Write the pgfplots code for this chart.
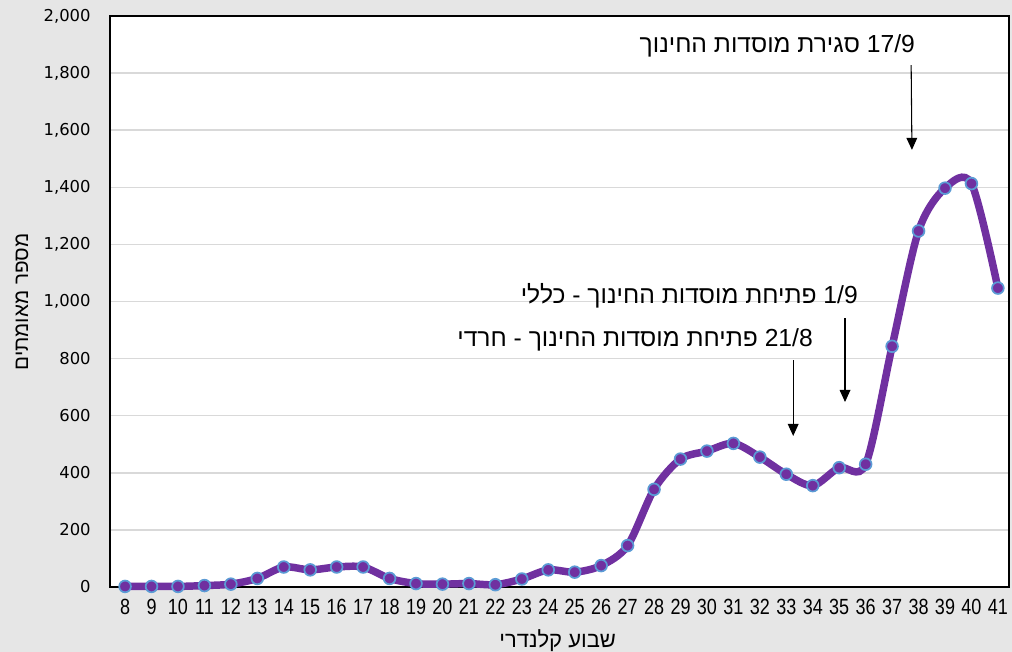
\documentclass[border=0pt]{standalone}
\usepackage{pgfplots}
\pgfplotsset{compat=1.18}
\usepackage{fontspec}
\setmainfont{Liberation Sans}
\newfontfamily\hebfont[Script=Hebrew]{Liberation Sans}
\newfontfamily\tickfont{DejaVu Sans}
\TeXXeTstate=1
\usetikzlibrary{arrows.meta}
\definecolor{cBg}{HTML}{E6E6E6}
\definecolor{cLine}{HTML}{7030A0}
\definecolor{cEdge}{HTML}{5B9BD5}
\definecolor{cGrid}{HTML}{D9D9D9}
\begin{document}
\begin{tikzpicture}[x=0.75pt,y=0.75pt]
\fill[cBg] (0,0) rectangle (1012,652);
\begin{axis}[
  at={(82.5pt,48.75pt)}, anchor=south west,
  scale only axis,
  width=674.25pt, height=428.25pt,
  xmin=7.43, xmax=41.42,
  ymin=0, ymax=2000,
  xtick={8,...,41},
  ytick={0,200,...,2000},
  major tick length=0pt,
  axis background/.style={fill=white},
  axis line style={black, line width=1.5pt},
  ymajorgrids,
  grid style={cGrid, line width=1.1pt},
  /pgf/number format/.cd, 1000 sep={,}, assume math mode=true, /pgfplots/.cd,
  xticklabel={\scalebox{1}[1.22]{\pgfmathprintnumber{\tick}}},
  xticklabel style={font=\fontsize{13.5}{14}\selectfont, yshift=-5.5pt},
  yticklabel style={font=\tickfont\fontsize{12.3}{14}\selectfont, xshift=-11pt},
  xlabel={\hebfont\beginR שבוע קלנדרי\endR},
  ylabel={\hebfont\beginR מספר מאומתים\endR},
  xlabel style={at={(rel axis cs:0.498,-0.094)}, anchor=center, font=\fontsize{16.5}{18}\selectfont},
  ylabel style={at={(rel axis cs:-0.098,0.499)}, anchor=center, rotate=0, font=\fontsize{15.5}{18}\selectfont},
  clip=false,
]
\addplot[
  color=cLine, line width=5.6pt, smooth, tension=0.5,
  mark=*, mark size=4.4pt,
  mark options={fill=cLine, draw=cEdge, line width=1.3pt},
] coordinates {
  (8,2)(9,2)(10,2)(11,5)(12,10)(13,30)(14,70)(15,60)(16,70)(17,70)
  (18,30)(19,12)(20,10)(21,12)(22,8)(23,28)(24,60)(25,52)(26,75)(27,145)
  (28,342)(29,448)(30,476)(31,503)(32,455)(33,395)(34,355)(35,418)(36,430)
  (37,843)(38,1247)(39,1397)(40,1413)(41,1047)
};
\draw[-{Triangle[length=9pt,width=8pt]}, line width=0.8pt]
  (axis cs:37.72,1828) -- (axis cs:37.75,1531);
\draw[-{Triangle[length=9pt,width=8pt]}, line width=0.8pt]
  (axis cs:35.22,942) -- (axis cs:35.22,648);
\draw[-{Triangle[length=9pt,width=8pt]}, line width=0.8pt]
  (axis cs:33.26,795) -- (axis cs:33.26,529);
\node[anchor=east, inner sep=0pt, font=\fontsize{18.5}{20}\selectfont]
  at (axis cs:37.87,1895) {\hebfont\beginR\beginL 17/9\endL{} סגירת מוסדות החינוך\endR};
\node[anchor=east, inner sep=0pt, font=\fontsize{18.5}{20}\selectfont]
  at (axis cs:35.71,1019) {\hebfont\beginR\beginL 1/9\endL{} פתיחת מוסדות החינוך - כללי\endR};
\node[anchor=east, inner sep=0pt, font=\fontsize{18.5}{20}\selectfont]
  at (axis cs:34.01,865) {\hebfont\beginR\beginL 21/8\endL{} פתיחת מוסדות החינוך - חרדי\endR};
\end{axis}
\pgfresetboundingbox
\path[use as bounding box] (0,0) rectangle (1012,652);
\end{tikzpicture}
\end{document}
